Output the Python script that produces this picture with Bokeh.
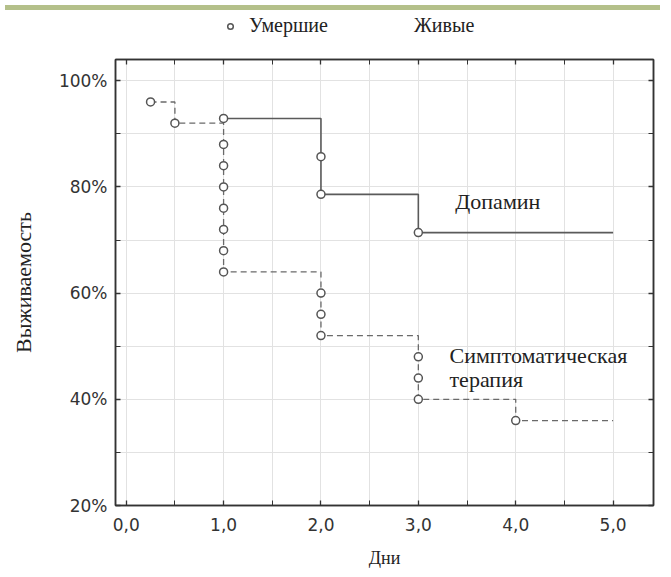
from bokeh.plotting import figure
from bokeh.models import (FixedTicker, LinearAxis, Legend, LegendItem, Label,
                          Div, Range1d)
from bokeh.layouts import column
from bokeh.embed import file_html
from bokeh.resources import INLINE

# ---- data ----
symp_days = [0.25, 0.5, 1, 1, 1, 1, 1, 1, 1, 2, 2, 2, 3, 3, 3, 4]
symp_surv = [96, 92, 88, 84, 80, 76, 72, 68, 64, 60, 56, 52, 48, 44, 40, 36]
dopa_days = [1, 2, 2, 3]
dopa_surv = [92.9, 85.7, 78.6, 71.4]
follow_up_end = 5.0

x_ticks = [0, 1, 2, 3, 4, 5]
x_tick_labels = ["0,0", "1,0", "2,0", "3,0", "4,0", "5,0"]
x_minor = [0.5, 1.5, 2.5, 3.5, 4.5]
y_ticks = [20, 40, 60, 80, 100]
y_tick_labels = ["20%", "40%", "60%", "80%", "100%"]
y_minor = [30, 50, 70, 90]

legend_labels = ["Умершие", "Живые"]
series_labels = ["Допамин", "Симптоматическая", "терапия"]
x_title = "Дни"
y_title = "Выживаемость"


def step_points(days, surv, end):
    xs, ys = [], []
    for d, s in zip(days, surv):
        if xs and xs[-1] == d:
            ys[-1] = s
        else:
            xs.append(d)
            ys.append(s)
    xs.append(end)
    ys.append(ys[-1])
    return xs, ys


SERIF = "Liberation Serif"
SANS = "DejaVu Sans"
LINE = "#5a5a5a"
MARK = dict(marker="circle", size=8, line_color="#555555", line_width=1.5,
            fill_color="white")

# ---- legend strip (its key glyphs sit outside its own range) ----
lf = figure(width=655, height=31, x_range=Range1d(0, 1), y_range=Range1d(0, 1),
            x_axis_type=None, y_axis_type=None, output_backend="svg",
            toolbar_location=None, min_border=0)
lf.outline_line_color = None
lf.xgrid.visible = False
lf.ygrid.visible = False
lf.background_fill_color = "white"
lf.border_fill_color = "white"
r_dead = lf.scatter(x=[-1], y=[-1], **MARK)
r_alive = lf.scatter(x=[-1], y=[-1], marker="cross", size=8, line_alpha=0,
                     fill_alpha=0)
legend = Legend(items=[LegendItem(label=legend_labels[0], renderers=[r_dead]),
                       LegendItem(label=legend_labels[1], renderers=[r_alive])],
                orientation="horizontal", location=(106, 7),
                label_text_font=SERIF, label_text_font_size="20px",
                label_text_color="#222222",
                border_line_alpha=0, background_fill_alpha=0,
                spacing=60, glyph_width=14, label_standoff=12,
                margin=0, padding=2)
lf.add_layout(legend)

# ---- main plot ----
p = figure(width=655, height=525, x_range=Range1d(-0.11, 5.415),
           y_range=Range1d(20, 104), output_backend="svg",
           toolbar_location=None, min_border_left=115, min_border_right=2,
           min_border_top=13, min_border_bottom=66)
p.background_fill_color = "white"
p.border_fill_color = "white"
p.outline_line_color = "#333333"
p.outline_line_width = 1.5

p.add_layout(LinearAxis(), "right")
p.add_layout(LinearAxis(), "above")

for ax in p.xaxis:
    ax.ticker = FixedTicker(ticks=x_ticks, minor_ticks=x_minor)
    ax.major_label_overrides = {t: l for t, l in zip(x_ticks, x_tick_labels)}
for ax in p.yaxis:
    ax.ticker = FixedTicker(ticks=y_ticks, minor_ticks=y_minor)
    ax.major_label_overrides = {t: l for t, l in zip(y_ticks, y_tick_labels)}

for ax in p.xaxis + p.yaxis:
    ax.axis_line_color = "#333333"
    ax.axis_line_width = 1.5
    ax.major_tick_in = 5
    ax.major_tick_out = 0
    ax.minor_tick_in = 5
    ax.minor_tick_out = 0
    ax.major_tick_line_color = "#333333"
    ax.minor_tick_line_color = "#333333"
    ax.major_tick_line_width = 1.3
    ax.minor_tick_line_width = 1.0
    ax.major_label_text_font = SANS
    ax.major_label_text_font_size = "17px"
    ax.major_label_text_color = "#333333"
    ax.axis_label_text_font = SERIF
    ax.axis_label_text_font_style = "normal"
    ax.axis_label_text_color = "#222222"

p.right[0].major_label_overrides = {t: "" for t in y_ticks}
p.right[0].major_label_standoff = 0
p.above[0].major_label_overrides = {t: "" for t in x_ticks}
p.above[0].major_label_standoff = 0

p.below[0].major_label_standoff = 12
p.below[0].axis_label = x_title
p.below[0].axis_label_text_font_size = "18px"
p.below[0].axis_label_standoff = 14
p.left[0].major_label_standoff = 8
p.left[0].axis_label = y_title
p.left[0].axis_label_text_font_size = "22px"
p.left[0].axis_label_standoff = 20

p.xgrid.grid_line_color = "#e2e2e2"
p.ygrid.grid_line_color = "#e2e2e2"
p.xgrid.minor_grid_line_color = "#e2e2e2"
p.ygrid.minor_grid_line_color = "#e2e2e2"

sx, sy = step_points(symp_days, symp_surv, follow_up_end)
dx, dy = step_points(dopa_days, dopa_surv, follow_up_end)
p.step(sx, sy, mode="after", line_color="#6a6a6a", line_width=1.3,
       line_dash="6 4")
p.step(dx, dy, mode="after", line_color=LINE, line_width=1.6)

p.scatter(symp_days, symp_surv, **MARK)
p.scatter(dopa_days, dopa_surv, **MARK)

p.add_layout(Label(x=3.38, y=77.3, text=series_labels[0], text_font=SERIF,
                   text_font_size="22px", text_baseline="middle",
                   text_color="#222222"))
p.add_layout(Label(x=3.32, y=48.2, text=series_labels[1], text_font=SERIF,
                   text_font_size="22px", text_baseline="middle",
                   text_color="#222222"))
p.add_layout(Label(x=3.32, y=43.7, text=series_labels[2], text_font=SERIF,
                   text_font_size="22px", text_baseline="middle",
                   text_color="#222222"))

band = Div(width=655, height=5, styles={"background-color": "#b4c08a"})
layout = column(band, lf, p, spacing=0)

open("out.html", "w").write(file_html(layout, INLINE))
